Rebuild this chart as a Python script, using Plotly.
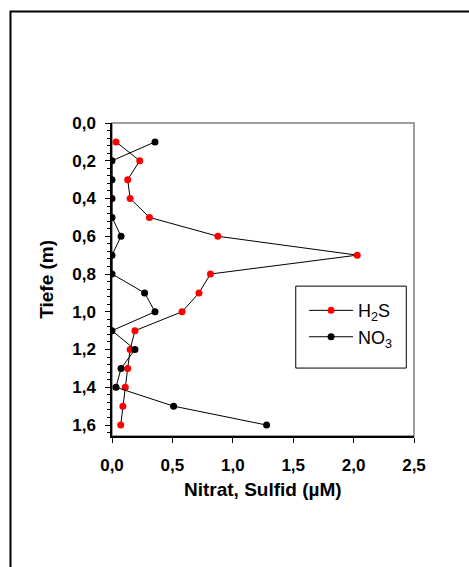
import plotly.graph_objects as go

depth = [0.1, 0.2, 0.3, 0.4, 0.5, 0.6, 0.7, 0.8, 0.9, 1.0, 1.1, 1.2, 1.3, 1.4, 1.5, 1.6]
h2s = [0.033, 0.23, 0.13, 0.15, 0.31, 0.876, 2.03, 0.815, 0.72, 0.58, 0.19, 0.15, 0.13, 0.11, 0.09, 0.072]
no3 = [0.356, 0.0, 0.0, 0.0, 0.0, 0.075, 0.0, 0.0, 0.27, 0.356, 0.0, 0.19, 0.075, 0.033, 0.51, 1.28]
x_ticks = [0.0, 0.5, 1.0, 1.5, 2.0, 2.5]
y_ticks = [0.0, 0.2, 0.4, 0.6, 0.8, 1.0, 1.2, 1.4, 1.6]

W, H = 469, 567
L, R, T, B = 112.3, 413.7, 122.7, 436.0
pw, ph = R - L, B - T

def px(x):
    return (x - L) / pw

def py(y):
    return (B - y) / ph

font = "Liberation Sans, Arial, sans-serif"

fig = go.Figure()
fig.add_trace(go.Scatter(
    x=h2s, y=depth, mode="lines+markers", name="H<sub>2</sub>S",
    line=dict(color="black", width=1),
    marker=dict(color="#ff0000", size=7, line=dict(width=0)),
    legendgroup="a",
))
fig.add_trace(go.Scatter(
    x=no3, y=depth, mode="lines+markers", name="NO<sub>3</sub>",
    line=dict(color="black", width=1),
    marker=dict(color="black", size=7, line=dict(width=0)),
    legendgroup="b",
))

fig.update_layout(
    width=W, height=H,
    margin=dict(l=L, r=W - R, t=T, b=H - B, pad=0),
    paper_bgcolor="white", plot_bgcolor="white",
    separators=",.",
    showlegend=True,
    legend=dict(
        x=px(304), y=py(292), xanchor="left", yanchor="top",
        bgcolor="rgba(0,0,0,0)", borderwidth=0,
        font=dict(family=font, size=18, color="black"),
        traceorder="grouped", tracegroupgap=0, itemwidth=44,
    ),
    font=dict(family=font, color="black"),
)

fig.update_xaxes(
    range=[0, 2.5], tickvals=x_ticks, tickformat=".1f",
    showgrid=False, zeroline=False,
    showline=True, linecolor="black", linewidth=1.5,
    ticks="outside", ticklen=5, tickcolor="black", tickwidth=1,
    tickfont=dict(family=font, size=17, weight="bold", color="black"),
    ticklabelstandoff=8,
)
fig.update_yaxes(
    range=[1.658, 0], tickvals=y_ticks, tickformat=".1f",
    showgrid=False, zeroline=False,
    showline=True, linecolor="black", linewidth=1.5,
    ticks="outside", ticklen=5, tickcolor="black", tickwidth=1,
    tickfont=dict(family=font, size=17, weight="bold", color="black"),
    ticklabelstandoff=6,
    minor=dict(dtick=0.04, tick0=0, ticks="outside", ticklen=3, tickcolor="black", tickwidth=1),
)

# plot area frame (top/right grey)
fig.add_shape(type="rect", xref="paper", yref="paper", x0=0, y0=0, x1=1, y1=1,
              line=dict(color="#7f7f7f", width=1.5), layer="below")
# outer page frame
fig.add_shape(type="rect", xref="paper", yref="paper",
              x0=px(11), x1=px(474), y0=py(585), y1=py(11),
              line=dict(color="black", width=2), layer="below")
# legend box
fig.add_shape(type="rect", xref="paper", yref="paper",
              x0=px(295.7), x1=px(406), y0=py(368), y1=py(286),
              line=dict(color="black", width=1), fillcolor="white", layer="above")

fig.add_annotation(text="<b>Tiefe (m)</b>", xref="paper", yref="paper",
                   x=px(46.7), y=0.5, textangle=-90, showarrow=False,
                   xanchor="center", yanchor="middle",
                   font=dict(family=font, size=19, color="black"))
fig.add_annotation(text="<b>Nitrat, Sulfid (µM)</b>", xref="paper", yref="paper",
                   x=0.5, y=py(490), showarrow=False,
                   xanchor="center", yanchor="middle",
                   font=dict(family=font, size=19, color="black"))

fig.write_html("out.html")
